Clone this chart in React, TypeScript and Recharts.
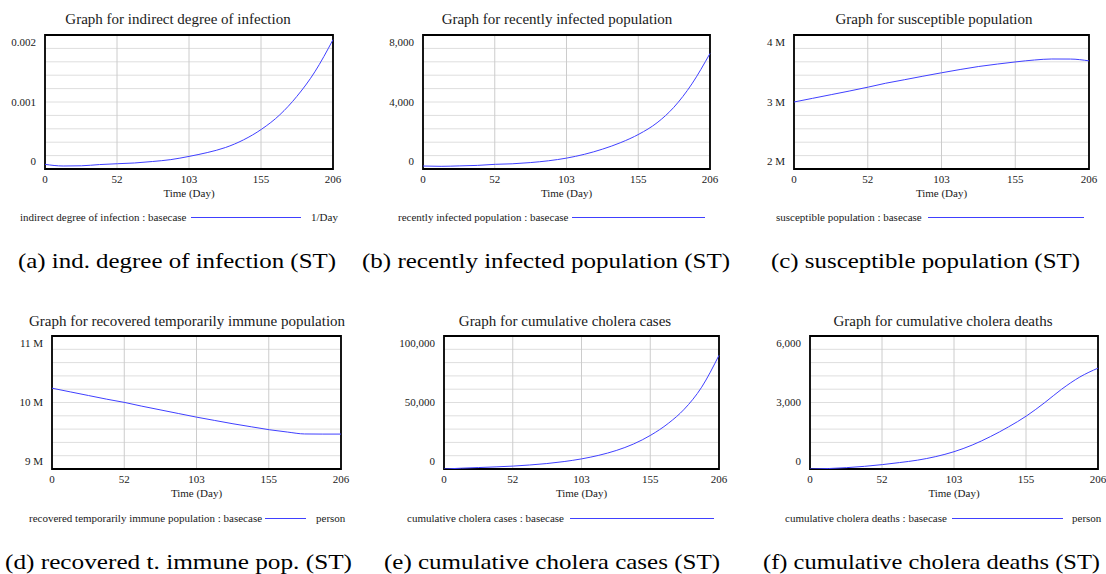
import React from 'react';
import { LineChart, Line, XAxis, YAxis, CartesianGrid, ReferenceArea } from 'recharts';

const days = [0, 13, 26, 39, 52, 64, 77, 90, 103, 116, 129, 142, 155, 168, 180, 193, 206];

const indirectDegree = [0.000069, 0.000045, 0.000048, 0.000066, 0.000079, 0.00009, 0.000112, 0.00014, 0.000188, 0.000245, 0.00032, 0.000435, 0.000595, 0.00081, 0.00108, 0.00145, 0.00193];
const recentlyInfected = [178, 160, 185, 215, 280, 310, 383, 490, 650, 880, 1190, 1580, 2080, 2760, 3680, 5080, 6900];
const susceptible = [3000000, 3055000, 3110000, 3165000, 3223000, 3280000, 3332000, 3385000, 3436000, 3485000, 3530000, 3566000, 3599000, 3627000, 3642000, 3641000, 3614000];
const recovered = [10215000, 10160000, 10105000, 10050000, 10000000, 9945000, 9890000, 9835000, 9780000, 9730000, 9680000, 9635000, 9590000, 9555000, 9527000, 9525000, 9525000];
const cumulativeCases = [0, 600, 1100, 1600, 2200, 3000, 4100, 5600, 7600, 10300, 13900, 18800, 25500, 34300, 45000, 61500, 85500];
const cumulativeDeaths = [0, 20, 60, 120, 200, 290, 400, 560, 780, 1080, 1460, 1900, 2400, 3000, 3600, 4150, 4550];

const xTicks = [0, 51.5, 103, 154.5, 206];

const yLabelsA = ['0', '0.001', '0.002'];
const yLabelsB = ['0', '4,000', '8,000'];
const yLabelsC = ['2 M', '3 M', '4 M'];
const yLabelsD = ['9 M', '10 M', '11 M'];
const yLabelsE = ['0', '50,000', '100,000'];
const yLabelsF = ['0', '3,000', '6,000'];

const BLUE = '#4040ff';
const SERIF = '"Liberation Serif", "Times New Roman", serif';
const TEXT = '#1a1a1a';

type PanelCfg = {
  title: string;
  legend: string;
  unit?: string;
  values: number[];
  yMin: number;
  yMax: number;
  yLabels: string[];
  L: number; R: number; T: number; B: number;
  titleX: number; titleY: number;
  legY: number; textX: number; lineX1: number; lineX2: number; unitX?: number;
  caption: string; capX1: number; capX2: number; capBase: number;
};

const panels: PanelCfg[] = [
  {
    title: 'Graph for indirect degree of infection', legend: 'indirect degree of infection : basecase', unit: '1/Day',
    values: indirectDegree, yMin: 0, yMax: 0.002, yLabels: yLabelsA,
    L: 45, R: 333, T: 35, B: 169, titleX: 178, titleY: 19,
    legY: 217, textX: 20, lineX1: 191, lineX2: 301, unitX: 311,
    caption: '(a) ind. degree of infection (ST)', capX1: 18, capX2: 336, capBase: 268,
  },
  {
    title: 'Graph for recently infected population', legend: 'recently infected population : basecase',
    values: recentlyInfected, yMin: 0, yMax: 8000, yLabels: yLabelsB,
    L: 423, R: 710, T: 35, B: 169, titleX: 557, titleY: 19,
    legY: 217, textX: 398, lineX1: 572, lineX2: 705,
    caption: '(b) recently infected population (ST)', capX1: 362, capX2: 730, capBase: 268,
  },
  {
    title: 'Graph for susceptible population', legend: 'susceptible population : basecase',
    values: susceptible, yMin: 2000000, yMax: 4000000, yLabels: yLabelsC,
    L: 794, R: 1089, T: 35, B: 169, titleX: 934, titleY: 19,
    legY: 217, textX: 776, lineX1: 928, lineX2: 1084,
    caption: '(c) susceptible population (ST)', capX1: 771, capX2: 1080, capBase: 268,
  },
  {
    title: 'Graph for recovered temporarily immune population', legend: 'recovered temporarily immune population : basecase', unit: 'person',
    values: recovered, yMin: 9000000, yMax: 11000000, yLabels: yLabelsD,
    L: 52, R: 341, T: 336, B: 469, titleX: 187, titleY: 321,
    legY: 518, textX: 29, lineX1: 265, lineX2: 306, unitX: 316,
    caption: '(d) recovered t. immune pop. (ST)', capX1: 5, capX2: 352, capBase: 569,
  },
  {
    title: 'Graph for cumulative cholera cases', legend: 'cumulative cholera cases : basecase',
    values: cumulativeCases, yMin: 0, yMax: 100000, yLabels: yLabelsE,
    L: 444, R: 719, T: 336, B: 469, titleX: 565, titleY: 321,
    legY: 518, textX: 407, lineX1: 570, lineX2: 714,
    caption: '(e) cumulative cholera cases (ST)', capX1: 384, capX2: 720, capBase: 569,
  },
  {
    title: 'Graph for cumulative cholera deaths', legend: 'cumulative cholera deaths : basecase', unit: 'person',
    values: cumulativeDeaths, yMin: 0, yMax: 6000, yLabels: yLabelsF,
    L: 810, R: 1098, T: 336, B: 469, titleX: 943, titleY: 321,
    legY: 518, textX: 785, lineX1: 952, lineX2: 1063, unitX: 1072,
    caption: '(f) cumulative cholera deaths (ST)', capX1: 763, capX2: 1100, capBase: 569,
  },
];

const RIGHT_PAD = 14;

function Panel({ p }: { p: PanelCfg }) {
  const w = p.R - p.L;
  const h = p.B - p.T;
  const data = days.map((d, i) => ({ day: d, v: p.values[i] }));
  const span = p.yMax - p.yMin;
  const yTicks = [0, 1, 2, 3, 4, 5, 6, 7, 8, 9, 10].map((k) => p.yMin + (span * k) / 10);

  const renderYTick = (props: any) => {
    const { x, y, payload } = props;
    const idx = Math.round(((payload.value - p.yMin) / span) * 10);
    if (idx % 5 !== 0) return <g />;
    const label = p.yLabels[idx / 5];
    const shift = idx === 10 ? 7.5 : idx === 0 ? -7.5 : 0;
    return (
      <text x={x} y={y + shift} dy="0.35em" textAnchor="end" fontSize={11} fontFamily={SERIF} fill={TEXT}>
        {label}
      </text>
    );
  };

  return (
    <>
      <div
        style={{
          position: 'absolute', left: p.titleX - 250, top: p.titleY - 9, width: 500, height: 18,
          lineHeight: '18px', textAlign: 'center', fontFamily: SERIF, fontSize: 15, color: TEXT, whiteSpace: 'nowrap',
        }}
      >
        {p.title}
      </div>
      <div style={{ position: 'absolute', left: p.L - 60, top: p.T - 10 }}>
        <LineChart width={w + 60 + RIGHT_PAD} height={h + 50} data={data} margin={{ top: 10, right: RIGHT_PAD, left: 0, bottom: 0 }} style={{ overflow: 'visible' }}>
          <CartesianGrid vertical={false} stroke="#dedede" />
          <CartesianGrid horizontal={false} stroke="#cccccc" />
          <XAxis
            dataKey="day" type="number" domain={[0, 206]} ticks={xTicks} interval={0}
            tickFormatter={(v: number) => String(Math.round(v))}
            axisLine={false} tickLine={false} tickSize={0} tickMargin={6} height={40}
            tick={{ fontSize: 11, fontFamily: SERIF, fill: TEXT }}
            label={{ value: 'Time (Day)', position: 'insideBottom', offset: 12, fontSize: 11, fontFamily: SERIF, fill: TEXT }}
          />
          <YAxis
            type="number" domain={[p.yMin, p.yMax]} ticks={yTicks} interval={0} allowDataOverflow
            axisLine={false} tickLine={false} tickSize={0} tickMargin={9} width={60}
            tick={renderYTick}
          />
          <Line type="monotone" dataKey="v" stroke={BLUE} strokeWidth={1} dot={false} isAnimationActive={false} />
          <ReferenceArea x1={0} x2={206} y1={p.yMin} y2={p.yMax} fill="none" stroke="#000" strokeWidth={1.8} ifOverflow="visible" />
        </LineChart>
      </div>
      <div
        style={{
          position: 'absolute', left: p.textX, top: p.legY - 8, height: 16, lineHeight: '16px',
          fontFamily: SERIF, fontSize: 11, color: TEXT, whiteSpace: 'nowrap',
        }}
      >
        {p.legend}
      </div>
      <div style={{ position: 'absolute', left: p.lineX1, top: p.legY, width: p.lineX2 - p.lineX1, height: 0, borderTop: `1px solid ${BLUE}` }} />
      {p.unit && p.unitX !== undefined ? (
        <div
          style={{
            position: 'absolute', left: p.unitX, top: p.legY - 8, height: 16, lineHeight: '16px',
            fontFamily: SERIF, fontSize: 11, color: TEXT, whiteSpace: 'nowrap',
          }}
        >
          {p.unit}
        </div>
      ) : null}
    </>
  );
}

export default function App() {
  return (
    <div style={{ position: 'absolute', left: 0, top: 0, width: 1106, height: 574, overflow: 'hidden', background: '#fff' }}>
      {panels.map((p) => (
        <Panel key={p.title} p={p} />
      ))}
      <svg width={1106} height={574} style={{ position: 'absolute', left: 0, top: 0, pointerEvents: 'none' }}>
        {panels.map((p) => (
          <text
            key={p.caption}
            x={(p.capX1 + p.capX2) / 2}
            y={p.capBase}
            textAnchor="middle"
            textLength={p.capX2 - p.capX1}
            lengthAdjust="spacingAndGlyphs"
            fontFamily={SERIF}
            fontSize={22}
            fill="#000"
          >
            {p.caption}
          </text>
        ))}
      </svg>
    </div>
  );
}
